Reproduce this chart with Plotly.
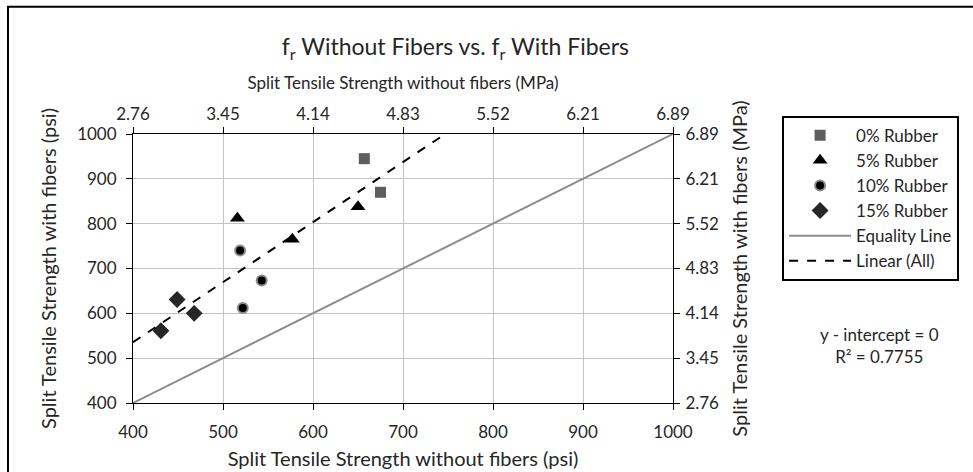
import numpy as np
import plotly.graph_objects as go

# Split tensile strength (psi): without fibers (x) vs. with fibers (y)
rubber0_x = [657, 675]
rubber0_y = [945, 870]
rubber5_x = [516, 577, 650]
rubber5_y = [812, 765, 838]
rubber10_x = [519, 543, 522]
rubber10_y = [740, 673, 612]
rubber15_x = [449, 468, 431]
rubber15_y = [631, 600, 561]

psi_ticks = [400, 500, 600, 700, 800, 900, 1000]
mpa_labels = ["2.76", "3.45", "4.14", "4.83", "5.52", "6.21", "6.89"]
r2_text = "0.7755"

FONT = "Lato, 'Open Sans', sans-serif"
GRID = "#c4c4c4"
TEXT = "#262626"

# Linear fit through the origin over all points
all_x = np.array(rubber0_x + rubber5_x + rubber10_x + rubber15_x, dtype=float)
all_y = np.array(rubber0_y + rubber5_y + rubber10_y + rubber15_y, dtype=float)
slope = float(np.sum(all_x * all_y) / np.sum(all_x ** 2))
fit_x = np.array([psi_ticks[0], psi_ticks[-1]], dtype=float)
fit_y = slope * fit_x

fig = go.Figure()
fig.add_trace(go.Scatter(x=rubber0_x, y=rubber0_y, mode="markers", name="0% Rubber",
                         marker=dict(symbol="square", size=11, color="#5e5e5e")))
fig.add_trace(go.Scatter(x=rubber5_x, y=rubber5_y, mode="markers", name="5% Rubber",
                         marker=dict(symbol="triangle-up", size=13, color="#000000")))
fig.add_trace(go.Scatter(x=rubber10_x, y=rubber10_y, mode="markers", name="10% Rubber",
                         marker=dict(symbol="circle", size=10, color="#000000",
                                     line=dict(color="#8a8a8a", width=2))))
fig.add_trace(go.Scatter(x=rubber15_x, y=rubber15_y, mode="markers", name="15% Rubber",
                         marker=dict(symbol="diamond", size=13, color="#262626")))
fig.add_trace(go.Scatter(x=[psi_ticks[0], psi_ticks[-1]], y=[psi_ticks[0], psi_ticks[-1]],
                         mode="lines", name="Equality Line",
                         line=dict(color="#8c8c8c", width=2)))
fig.add_trace(go.Scatter(x=fit_x, y=fit_y, mode="lines", name="Linear (All)",
                         line=dict(color="#000000", width=2, dash="dash")))
# Secondary (MPa) axes carrier
fig.add_trace(go.Scatter(x=[None], y=[None], xaxis="x2", yaxis="y2",
                         showlegend=False, hoverinfo="skip"))

axis_common = dict(
    range=[400, 1000], tickvals=psi_ticks, showline=True, linecolor="#000000",
    linewidth=1, ticks="outside", ticklen=6, tickcolor="#000000",
    tickfont=dict(family=FONT, size=17, color=TEXT), zeroline=False,
    automargin=False,
)
title_font = dict(family=FONT, size=20, color=TEXT)

fig.update_layout(
    width=973, height=472,
    margin=dict(l=133, r=300, t=134, b=69),
    paper_bgcolor="#ffffff", plot_bgcolor="#ffffff",
    font=dict(family=FONT, size=17, color=TEXT),
    title=dict(text="f<sub>r</sub> Without Fibers vs. f<sub>r</sub> With Fibers",
               x=0.468, xanchor="center", y=0.9, yanchor="middle", yref="container",
               font=dict(family=FONT, size=23, color=TEXT)),
    xaxis=dict(**axis_common, showgrid=True, gridcolor=GRID, gridwidth=1,
               ticklabelstandoff=8,
               title=dict(text="Split Tensile Strength without fibers (psi)",
                          font=title_font, standoff=10)),
    yaxis=dict(**axis_common, showgrid=True, gridcolor=GRID, gridwidth=1,
               ticklabelstandoff=6,
               title=dict(text="Split Tensile Strength with fibers (psi)",
                          font=title_font, standoff=15)),
    xaxis2=dict(**axis_common, overlaying="x", side="top", anchor="y", showgrid=False,
                ticktext=mpa_labels,
                title=dict(text="Split Tensile Strength without fibers (MPa)",
                           font=dict(family=FONT, size=17, color=TEXT), standoff=9)),
    yaxis2=dict(**axis_common, overlaying="y", side="right", anchor="x", showgrid=False,
                ticktext=mpa_labels, ticklabelstandoff=2,
                title=dict(text="Split Tensile Strength with fibers (MPa)",
                           font=title_font, standoff=14)),
    legend=dict(x=1.202, xanchor="left", y=1.068, yanchor="top",
                bordercolor="#000000", borderwidth=2, bgcolor="#ffffff",
                font=dict(family=FONT, size=17, color=TEXT),
                tracegroupgap=0, itemwidth=62, entrywidth=143),
    showlegend=True,
)

fig.add_annotation(text=f"y - intercept = 0<br>R² = {r2_text}",
                   xref="paper", yref="paper", x=1.382, y=0.212,
                   xanchor="center", yanchor="middle", showarrow=False,
                   font=dict(family=FONT, size=17, color=TEXT))

# Chart-area frame
fig.add_shape(type="rect", xref="paper", yref="paper",
              x0=-0.2315, x1=1.6, y0=-0.35, y1=1.473,
              line=dict(color="#000000", width=2), fillcolor="rgba(0,0,0,0)", layer="below")

fig.write_html("out.html")
